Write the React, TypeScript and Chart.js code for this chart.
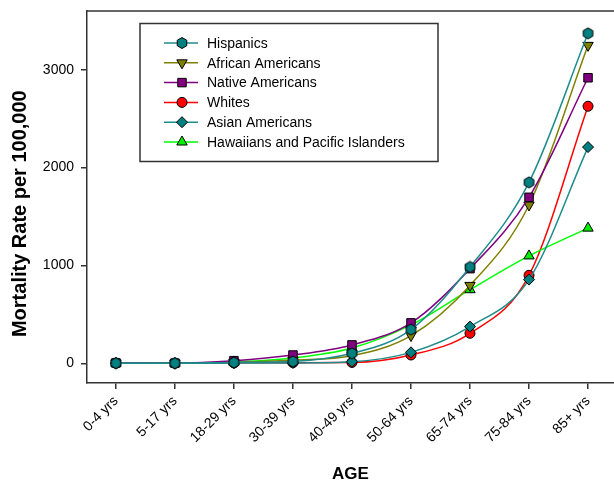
import React, { useEffect, useRef } from 'react';
import { Chart, registerables } from 'chart.js';

Chart.register(...registerables);

const ageGroups = ['0-4 yrs', '5-17 yrs', '18-29 yrs', '30-39 yrs', '40-49 yrs', '50-64 yrs', '65-74 yrs', '75-84 yrs', '85+ yrs'];
const hispanics = [3, 3, 10, 20, 103, 346, 985, 1850, 3372];
const africanAmericans = [5, 3, 12, 35, 79, 284, 797, 1618, 3249];
const nativeAmericans = [5, 3, 28, 86, 189, 414, 968, 1697, 2918];
const whites = [2, 1, 5, 8, 10, 86, 308, 900, 2627];
const asianAmericans = [2, 1, 4, 5, 17, 113, 376, 856, 2210];
const hawaiians = [3, 2, 15, 55, 158, 394, 753, 1098, 1382];
const yTickValues = [0, 1000, 2000, 3000];

const FAMILY = '"Liberation Sans", Arial, Helvetica, sans-serif';

type Series = {
  label: string;
  values: number[];
  line: string;
  fill: string;
  style: string;
  radius: number;
  rotation: number;
  order: number;
};

const series: Series[] = [
  { label: 'Hispanics', values: hispanics, line: '#1f8c8c', fill: '#008080', style: 'hexagon', radius: 5.5, rotation: 0, order: 0 },
  { label: 'African Americans', values: africanAmericans, line: '#808000', fill: '#808000', style: 'triangle', radius: 6, rotation: 180, order: 3 },
  { label: 'Native Americans', values: nativeAmericans, line: '#800080', fill: '#800080', style: 'rect', radius: 6, rotation: 0, order: 2 },
  { label: 'Whites', values: whites, line: '#ff0000', fill: '#ff0000', style: 'circle', radius: 5, rotation: 0, order: 5 },
  { label: 'Asian Americans', values: asianAmericans, line: '#1f8c8c', fill: '#008080', style: 'rectRot', radius: 5.5, rotation: 0, order: 1 },
  { label: 'Hawaiians and Pacific Islanders', values: hawaiians, line: '#00ff00', fill: '#00ee00', style: 'triangle', radius: 6, rotation: 0, order: 4 },
];

function drawMarker(ctx: CanvasRenderingContext2D, style: string, x: number, y: number, r: number, rotation: number, fill: string) {
  ctx.save();
  ctx.fillStyle = fill;
  ctx.strokeStyle = '#000';
  ctx.lineWidth = 1;
  ctx.beginPath();
  if (style === 'circle') {
    ctx.arc(x, y, r, 0, Math.PI * 2);
  } else if (style === 'hexagon') {
    for (let k = 0; k < 6; k++) {
      const a = (Math.PI / 3) * k;
      const px = x + Math.sin(a) * r;
      const py = y - Math.cos(a) * r;
      if (k === 0) ctx.moveTo(px, py);
      else ctx.lineTo(px, py);
    }
    ctx.closePath();
  } else if (style === 'rect') {
    const s = r * Math.SQRT1_2;
    ctx.rect(x - s, y - s, 2 * s, 2 * s);
  } else if (style === 'rectRot') {
    ctx.moveTo(x - r, y);
    ctx.lineTo(x, y - r);
    ctx.lineTo(x + r, y);
    ctx.lineTo(x, y + r);
    ctx.closePath();
  } else if (style === 'triangle') {
    let rad = (rotation * Math.PI) / 180;
    ctx.moveTo(x + Math.sin(rad) * r, y - Math.cos(rad) * r);
    rad += (2 * Math.PI) / 3;
    ctx.lineTo(x + Math.sin(rad) * r, y - Math.cos(rad) * r);
    rad += (2 * Math.PI) / 3;
    ctx.lineTo(x + Math.sin(rad) * r, y - Math.cos(rad) * r);
    ctx.closePath();
  }
  ctx.fill();
  ctx.stroke();
  ctx.restore();
}

function makeHexagonImage(fill: string, r: number): HTMLCanvasElement {
  const size = Math.ceil(r * 2 + 2);
  const c = document.createElement('canvas');
  c.width = size;
  c.height = size;
  const cx = c.getContext('2d') as CanvasRenderingContext2D;
  drawMarker(cx, 'hexagon', size / 2, size / 2, r, 0, fill);
  return c;
}

const framePlugin = {
  id: 'frameAndLegend',
  afterDraw(chart: any) {
    const ctx: CanvasRenderingContext2D = chart.ctx;
    const area = chart.chartArea;
    ctx.save();
    ctx.strokeStyle = '#333';
    ctx.lineWidth = 1.5;
    ctx.beginPath();
    ctx.moveTo(area.left, area.top);
    ctx.lineTo(area.right, area.top);
    ctx.stroke();

    const bx = 140, by = 23.5, bw = 298, bh = 138;
    ctx.fillStyle = '#fff';
    ctx.fillRect(bx, by, bw, bh);
    ctx.strokeStyle = '#333';
    ctx.lineWidth = 1.5;
    ctx.strokeRect(bx, by, bw, bh);

    ctx.font = '14px ' + FAMILY;
    ctx.textBaseline = 'middle';
    ctx.textAlign = 'left';
    series.forEach((s, i) => {
      const y = 43 + i * 19.8;
      ctx.strokeStyle = s.line;
      ctx.lineWidth = 1.5;
      ctx.beginPath();
      ctx.moveTo(164, y);
      ctx.lineTo(198, y);
      ctx.stroke();
      drawMarker(ctx, s.style, 182, y, s.radius, s.rotation, s.fill);
      ctx.fillStyle = '#000';
      ctx.fillText(s.label, 207, y + 1);
    });
    ctx.restore();
  },
};

export default function App() {
  const canvasRef = useRef<HTMLCanvasElement | null>(null);

  useEffect(() => {
    if (!canvasRef.current) return;
    const chart = new Chart(canvasRef.current, {
      type: 'line',
      data: {
        datasets: series.map((s) => ({
          label: s.label,
          order: s.order,
          data: s.values.map((v, i) => ({ x: i, y: v })),
          borderColor: s.line,
          backgroundColor: s.fill,
          borderWidth: 1.5,
          pointStyle: (s.style === 'hexagon' ? makeHexagonImage(s.fill, s.radius) : s.style) as any,
          pointRadius: s.radius,
          pointRotation: s.rotation,
          pointBackgroundColor: s.fill,
          pointBorderColor: '#000',
          pointBorderWidth: 1,
          cubicInterpolationMode: 'monotone' as const,
          fill: false,
          clip: false as any,
        })),
      },
      options: {
        responsive: false,
        animation: false,
        layout: { autoPadding: false, padding: { top: 11, right: 0, bottom: 0, left: 0 } },
        plugins: {
          legend: { display: false },
          tooltip: { enabled: false },
        },
        scales: {
          x: {
            type: 'linear',
            min: -0.49,
            max: 8.44,
            afterBuildTicks: (scale: any) => {
              scale.ticks = ageGroups.map((_, i) => ({ value: i }));
            },
            afterFit: (scale: any) => {
              scale.height = 100;
              scale.paddingLeft = 0;
              scale.paddingRight = 0;
            },
            ticks: {
              autoSkip: false,
              minRotation: 45,
              maxRotation: 45,
              color: '#000',
              padding: 4,
              font: { size: 14, family: FAMILY },
              callback: (v: any) => ageGroups[v as number] ?? '',
            },
            grid: {
              display: true,
              drawOnChartArea: false,
              drawTicks: true,
              tickLength: 6,
              color: '#333',
              lineWidth: 1.5,
            },
            border: { display: true, color: '#333', width: 1.5 },
            title: {
              display: true,
              text: 'AGE',
              color: '#000',
              font: { size: 17, weight: 'bold', family: FAMILY, lineHeight: 1 },
              padding: { top: 0, bottom: 0 },
            },
          },
          y: {
            type: 'linear',
            min: -200,
            max: 3600,
            afterBuildTicks: (scale: any) => {
              scale.ticks = yTickValues.map((v) => ({ value: v }));
            },
            afterFit: (scale: any) => {
              scale.width = 87;
              scale.paddingTop = 0;
              scale.paddingBottom = 0;
            },
            ticks: {
              color: '#000',
              padding: 7,
              font: { size: 14, family: FAMILY },
              callback: (v: any) => String(v),
            },
            grid: {
              display: true,
              drawOnChartArea: false,
              drawTicks: true,
              tickLength: 6,
              color: '#333',
              lineWidth: 1.5,
            },
            border: { display: true, color: '#333', width: 1.5 },
            title: {
              display: true,
              text: 'Mortality Rate per 100,000      ',
              color: '#000',
              font: { size: 20, weight: 'bold', family: FAMILY, lineHeight: 1 },
              padding: { top: 10, bottom: 0 },
            },
          },
        },
      },
      plugins: [framePlugin],
    });
    return () => chart.destroy();
  }, []);

  return (
    <div style={{ position: 'absolute', left: 0, top: 0, width: 614, height: 483, background: '#fff' }}>
      <canvas ref={canvasRef} width={614} height={483} style={{ display: 'block' }} />
    </div>
  );
}
